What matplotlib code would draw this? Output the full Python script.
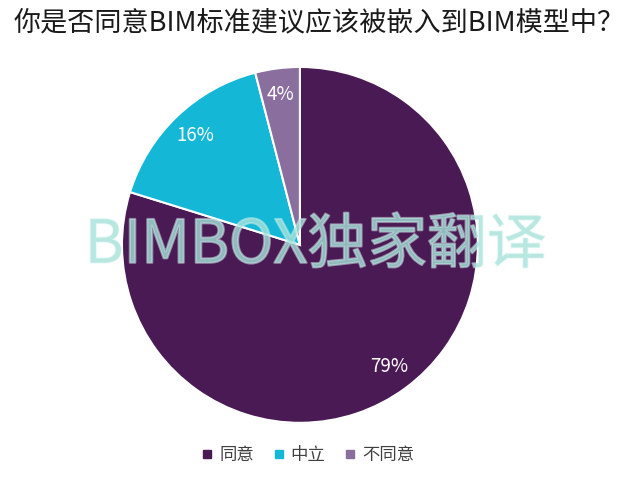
import matplotlib
matplotlib.use("Agg")
import matplotlib.pyplot as plt
import matplotlib.patheffects as pe
from matplotlib.lines import Line2D

plt.rcParams["font.family"] = ["Noto Sans CJK SC", "DejaVu Sans"]

title = "你是否同意BIM标准建议应该被嵌入到BIM模型中？"
labels = ["同意", "中立", "不同意"]
values = [79, 16, 4]
colors = ["#4a1a55", "#14b8d6", "#8a6e9e"]
watermark = "BIMBOX独家翻译"

fig = plt.figure(figsize=(6.4, 4.8), dpi=100)

# pie centred near (300, 245) px, radius ~178 px
ax = fig.add_axes([0.1906, 0.1188, 0.556, 0.742])
wedges, texts, autotexts = ax.pie(
    values,
    colors=colors,
    startangle=90,
    counterclock=False,
    autopct="%d%%",
    pctdistance=0.85,
    wedgeprops={"edgecolor": "white", "linewidth": 1.5},
    textprops={"color": "white", "fontsize": 13.5},
)
ax.set_xlim(-1.0, 1.0)
ax.set_ylim(-1.0, 1.0)
ax.axis("off")

fig.text(0.022, 0.952, title, fontsize=19.5, color="#1a1a1a", ha="left", va="center")

handles = [Line2D([0], [0], marker="s", linestyle="none", markersize=6,
                  markerfacecolor=c, markeredgecolor=c) for c in colors]
fig.legend(handles, labels, loc="center", bbox_to_anchor=(0.48, 0.052), ncol=3,
           frameon=False, fontsize=12.5, handlelength=0.8, handletextpad=0.3,
           columnspacing=1.0, labelcolor="#404040")

fig.text(0.493, 0.487, watermark, fontsize=43, fontweight="light", color="#a6e2da",
         alpha=0.6, ha="center", va="center",
         path_effects=[pe.withStroke(linewidth=1.5, foreground="#e0f5f2", alpha=0.5)])

fig.savefig("out.png", dpi=100)
